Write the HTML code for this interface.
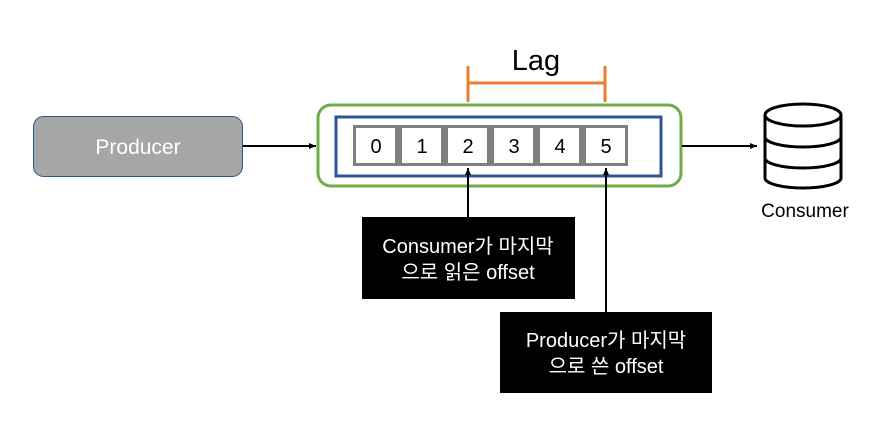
<!DOCTYPE html>
<html><head><meta charset="utf-8"><style>
body{margin:0;background:#fff;width:882px;height:426px;overflow:hidden}
svg text{font-family:"Liberation Sans","Noto Sans CJK KR",sans-serif}
</style></head><body>
<svg width="882" height="426" viewBox="0 0 882 426" xmlns="http://www.w3.org/2000/svg">
<defs><marker id="a" markerWidth="8" markerHeight="8" refX="7" refY="4" orient="auto" markerUnits="userSpaceOnUse"><path d="M0,1 L7,4 L0,7z" fill="#000"/></marker></defs>
<rect x="33.5" y="116.5" width="209" height="60" rx="10" fill="#a6a6a6" stroke="#2f5597" stroke-width="1"/>
<text x="138" y="154" font-size="21" fill="#fff" text-anchor="middle">Producer</text>
<line x1="243" y1="146" x2="316" y2="146" stroke="#000" stroke-width="2" marker-end="url(#a)"/>
<rect x="318" y="105" width="363" height="81" rx="13" fill="#fff" stroke="#70ad47" stroke-width="3"/>
<rect x="336" y="117" width="325" height="59" fill="#fff" stroke="#2f5597" stroke-width="3"/>
<rect x="353" y="125" width="275" height="41" fill="#7f7f7f"/>
<g fill="#fff"><rect x="356" y="128" width="39" height="35"/><rect x="402" y="128" width="39" height="35"/><rect x="448" y="128" width="39" height="35"/><rect x="494" y="128" width="39" height="35"/><rect x="540" y="128" width="39" height="35"/><rect x="586" y="128" width="39" height="35"/></g>
<g font-size="20" text-anchor="middle" fill="#000"><text x="376" y="153">0</text><text x="422" y="153">1</text><text x="468" y="153">2</text><text x="514" y="153">3</text><text x="560" y="153">4</text><text x="606" y="153">5</text></g>
<g stroke="#ed7d31" stroke-width="3"><line x1="468" y1="66" x2="468" y2="102"/><line x1="605" y1="66" x2="605" y2="102"/><line x1="468" y1="83" x2="605" y2="83"/></g>
<text x="536" y="70" font-size="29" text-anchor="middle">Lag</text>
<line x1="682" y1="146" x2="757" y2="146" stroke="#000" stroke-width="2" marker-end="url(#a)"/>
<g fill="#fff" stroke="#000" stroke-width="3">
<path d="M765,115 V178 A38,10 0 0 0 841,178 V115"/>
<ellipse cx="803" cy="115" rx="38" ry="11"/>
<path d="M765,137 A38,10 0 0 0 841,137" fill="none"/>
<path d="M765,158 A38,10 0 0 0 841,158" fill="none"/>
</g>
<text x="805" y="217" font-size="19" text-anchor="middle">Consumer</text>
<line x1="468" y1="217" x2="468" y2="168" stroke="#000" stroke-width="2" marker-end="url(#a)"/>
<line x1="606" y1="312" x2="606" y2="168" stroke="#000" stroke-width="2" marker-end="url(#a)"/>
<rect x="362" y="217" width="213" height="82" fill="#000"/>
<text x="468" y="253" font-size="20" fill="#fff" text-anchor="middle">Consumer가 마지막</text>
<text x="468" y="279" font-size="20" fill="#fff" text-anchor="middle">으로 읽은 offset</text>
<rect x="500" y="312" width="212" height="81" fill="#000"/>
<text x="606" y="347" font-size="20" fill="#fff" text-anchor="middle">Producer가 마지막</text>
<text x="606" y="373" font-size="20" fill="#fff" text-anchor="middle">으로 쓴 offset</text>
</svg>
</body></html>
